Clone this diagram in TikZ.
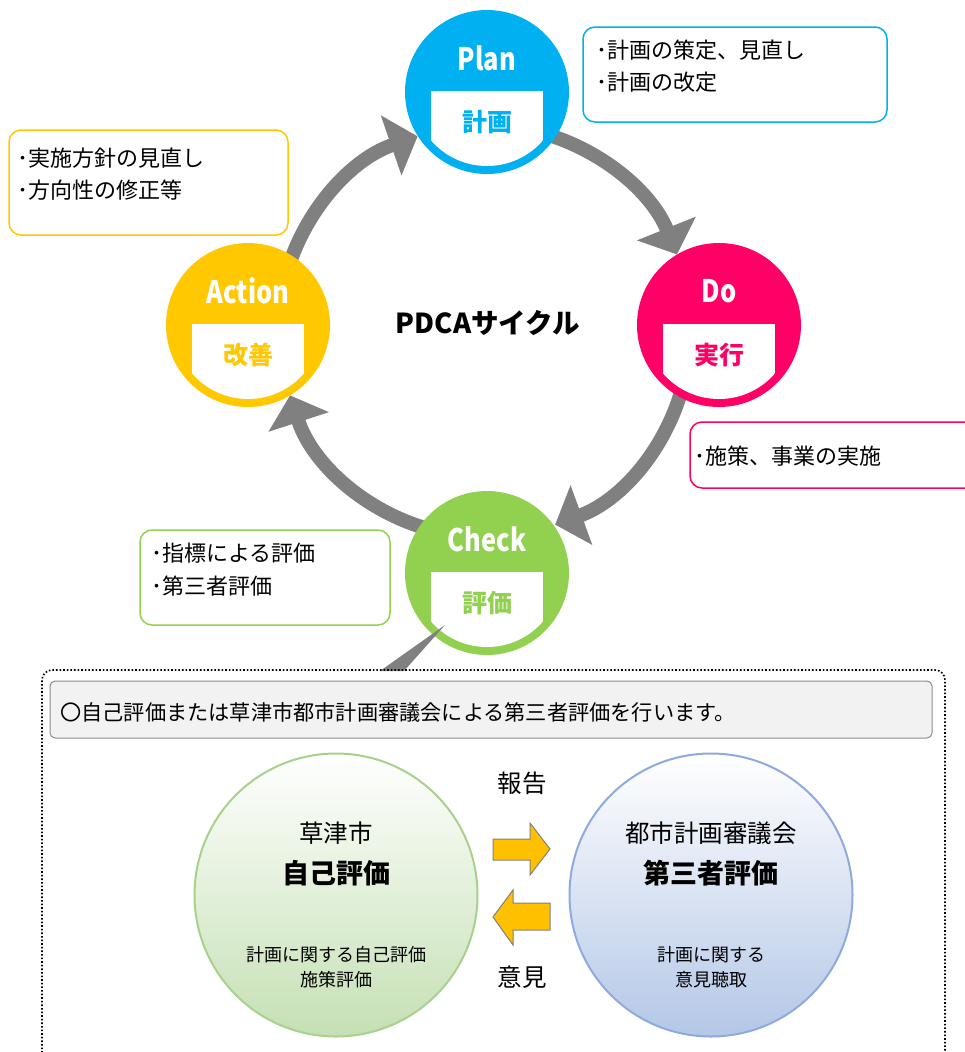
\documentclass[tikz,border=0pt]{standalone}
\usepackage{fontspec}
\usepackage{graphicx}
\setmainfont{Noto Sans CJK JP}
\usetikzlibrary{arrows.meta}
\definecolor{cplan}{HTML}{00B0F0}
\definecolor{cdo}{HTML}{FF0066}
\definecolor{cact}{HTML}{FFC800}
\definecolor{cchk}{HTML}{92D050}
\definecolor{garrow}{HTML}{808080}
\definecolor{lgreen}{HTML}{C5E0B4}
\definecolor{lgreenb}{HTML}{A9D18E}
\definecolor{lblue}{HTML}{B4C7E7}
\definecolor{lblueb}{HTML}{8FAADC}
\definecolor{bkarrow}{HTML}{FFC000}
\definecolor{boxgray}{HTML}{F2F2F2}
\definecolor{boxline}{HTML}{8C8C8C}
\newcommand\pdcacircle[6]{%
  \node[pcirc, fill=#4] (#1) at (#2,#3) {};
  \begin{scope}
    \clip (#1.center) circle[radius=74];
    \fill[white] (#2-56,#3-1) rectangle (#2+56,#3+90);
  \end{scope}
  \node[ptitle] (#1-t) at (#2,#3-34) {\scalebox{0.82}[1]{#5}};
  \node[plabel, text=#4] (#1-l) at (#2,#3+30) {#6};
}
\newcommand\fs[2]{\fontsize{#1}{#2}\selectfont}
\begin{document}
\begin{tikzpicture}[x=1pt,y=-1pt,
  pcirc/.style={circle, minimum size=164pt, inner sep=0pt, draw=none},
  ptitle/.style={text=white, font=\fontsize{31}{35}\selectfont\bfseries, inner sep=0pt},
  plabel/.style={font=\fontsize{25}{30}\selectfont\bfseries, inner sep=0pt},
  cyc/.style={draw=garrow, line width=14pt, -{Triangle[length=28pt,width=62pt]}},
  notebox/.style={rounded corners=12pt, line width=1.5pt, fill=white},
  notetext/.style={anchor=west, inner sep=0pt, font=\fontsize{22}{26}\selectfont, align=left},
  bigc/.style={circle, minimum size=283pt, inner sep=0pt, line width=2pt},
  blockarrow/.style={fill=bkarrow, draw=gray, line width=1pt, line join=miter},
]
\useasboundingbox (0,0) rectangle (965,1052);

% cycle arrows
\coordinate (O) at (485,332);
\draw[cyc] (O) ++(-80:207) arc[start angle=-80, end angle=-22, radius=207];
\draw[cyc] (O) ++(8:205) arc[start angle=8, end angle=70, radius=205];
\draw[cyc] (O) ++(100:205) arc[start angle=100, end angle=162, radius=205];
\draw[cyc] (O) ++(190:207) arc[start angle=190, end angle=251, radius=207];

% PDCA circles
\pdcacircle{plan}{487}{92}{cplan}{Plan}{計画}
\pdcacircle{do}{719}{325}{cdo}{Do}{実行}
\pdcacircle{check}{487}{573}{cchk}{Check}{評価}
\pdcacircle{act}{248}{325}{cact}{Action}{改善}

\node[font=\fontsize{27.5}{32}\selectfont\bfseries, inner sep=0pt] (title) at (488,323) {PDCAサイクル};

% note boxes
\draw[notebox, draw=cplan] (583,27) rectangle (887,122);
\node[notetext] (plan-n1) at (596,50) {･計画の策定、見直し};
\node[notetext] (plan-n2) at (596,82) {･計画の改定};

\draw[notebox, draw=cact] (9,130) rectangle (288,235);
\node[notetext] (act-n1) at (17,158) {･実施方針の見直し};
\node[notetext] (act-n2) at (17,190) {･方向性の修正等};

\draw[notebox, draw=cdo] (690,422) rectangle (990,488);
\node[notetext] (do-n1) at (694,456) {･施策、事業の実施};

\draw[notebox, draw=cchk] (140,530) rectangle (390,625);
\node[notetext] (chk-n1) at (151,553) {･指標による評価};
\node[notetext] (chk-n2) at (151,586) {･第三者評価};

% callout tail from Check to the lower panel
\fill[garrow] (445,625) -- (380,671) -- (404,671) -- cycle;

% lower panel
\draw[dotted, line width=1.6pt, rounded corners=10pt] (42,1060) -- (42,670) -- (945,670) -- (945,1060);
\draw[fill=boxgray, draw=boxline, line width=1pt, rounded corners=5pt] (50,681) rectangle (932,738);
\node[notetext, font=\fs{21.2}{25}] (lead) at (60,712) {〇自己評価または草津市都市計画審議会による第三者評価を行います。};

\node[bigc, top color=white, bottom color=lgreen, draw=lgreenb] (self) at (336,895) {};
\node[bigc, top color=white, bottom color=lblue, draw=lblueb] (third) at (711,895) {};

\node[inner sep=0pt, font=\fs{24.5}{29}] (self-a) at (336,833) {草津市};
\node[inner sep=0pt, font=\fs{27}{32}\bfseries] (self-b) at (336,873) {自己評価};
\node[inner sep=0pt, font=\fs{18}{25}, align=center] (self-c) at (336,967) {計画に関する自己評価\\施策評価};

\node[inner sep=0pt, font=\fs{24.5}{29}] (third-a) at (711,833) {都市計画審議会};
\node[inner sep=0pt, font=\fs{27}{32}\bfseries] (third-b) at (711,873) {第三者評価};
\node[inner sep=0pt, font=\fs{18}{25}, align=center] (third-c) at (711,967) {計画に関する\\意見聴取};

\node[inner sep=0pt, font=\fs{24.5}{29}] (report) at (522,783) {報告};
\node[inner sep=0pt, font=\fs{24.5}{29}] (opinion) at (522,977) {意見};

\draw[blockarrow] (493,839) -- (530,839) -- (530,823) -- (550,849) -- (530,875) -- (530,860) -- (493,860) -- cycle;
\draw[blockarrow] (550,903) -- (513,903) -- (513,890) -- (493,917) -- (513,945) -- (513,930) -- (550,930) -- cycle;
\end{tikzpicture}
\end{document}
